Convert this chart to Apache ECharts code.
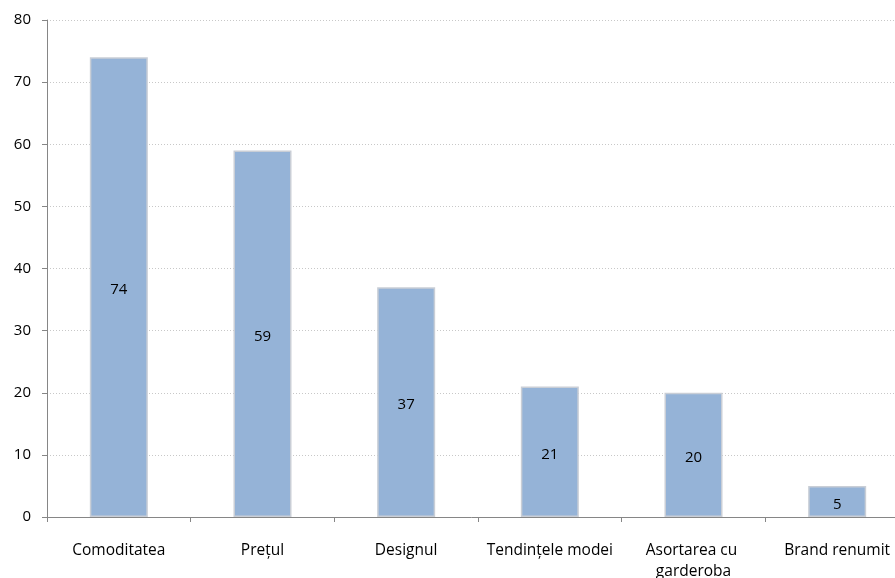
<!DOCTYPE html>
<html>
<head>
<meta charset="utf-8">
<script src="https://cdn.jsdelivr.net/npm/echarts@6/dist/echarts.min.js"></script>
<style>
  html, body { margin: 0; padding: 0; background: #fff; }
  #chart { width: 895px; height: 578px; }
</style>
</head>
<body>
<div id="chart"></div>
<script>
// Motive de alegere a articolelor vestimentare
const categories = ['Comoditatea', 'Prețul', 'Designul', 'Tendințele modei', 'Asortarea cu garderoba', 'Brand renumit'];
const values = [74, 59, 37, 21, 20, 5];
const yTicks = { min: 0, max: 80, interval: 10 };

const FONT = '"Open Sans", "Noto Sans", sans-serif';
const chart = echarts.init(document.getElementById('chart'));

chart.setOption({
  animation: false,
  grid: { left: 47, top: 20, width: 862, height: 497, outerBoundsMode: 'none', containLabel: false },
  xAxis: {
    type: 'category',
    data: categories,
    boundaryGap: true,
    axisLine: { lineStyle: { color: '#868686', width: 1 } },
    axisTick: { show: true, alignWithLabel: false, length: 5, lineStyle: { color: '#868686' } },
    axisLabel: {
      color: '#000', fontFamily: FONT, fontSize: 15.5, margin: 23,
      interval: 0, width: 142, overflow: 'break', lineHeight: 21
    },
    splitLine: { show: false }
  },
  yAxis: {
    type: 'value',
    min: yTicks.min, max: yTicks.max, interval: yTicks.interval,
    axisLine: { show: true, lineStyle: { color: '#868686', width: 1 } },
    axisTick: { show: true, length: 5, lineStyle: { color: '#868686' } },
    axisLabel: { color: '#000', fontFamily: FONT, fontSize: 15, margin: 16 },
    splitLine: { show: true, lineStyle: { color: '#c8c8c8', type: [1, 2], width: 1 } }
  },
  series: [{
    type: 'bar',
    data: values,
    barWidth: 58,
    itemStyle: { color: '#95b3d7', borderColor: '#c9ced6', borderWidth: 1.5 },
    label: {
      show: true, position: 'inside', color: '#000',
      fontFamily: FONT, fontSize: 15, offset: [0, 3]
    }
  }]
});
</script>
</body>
</html>
